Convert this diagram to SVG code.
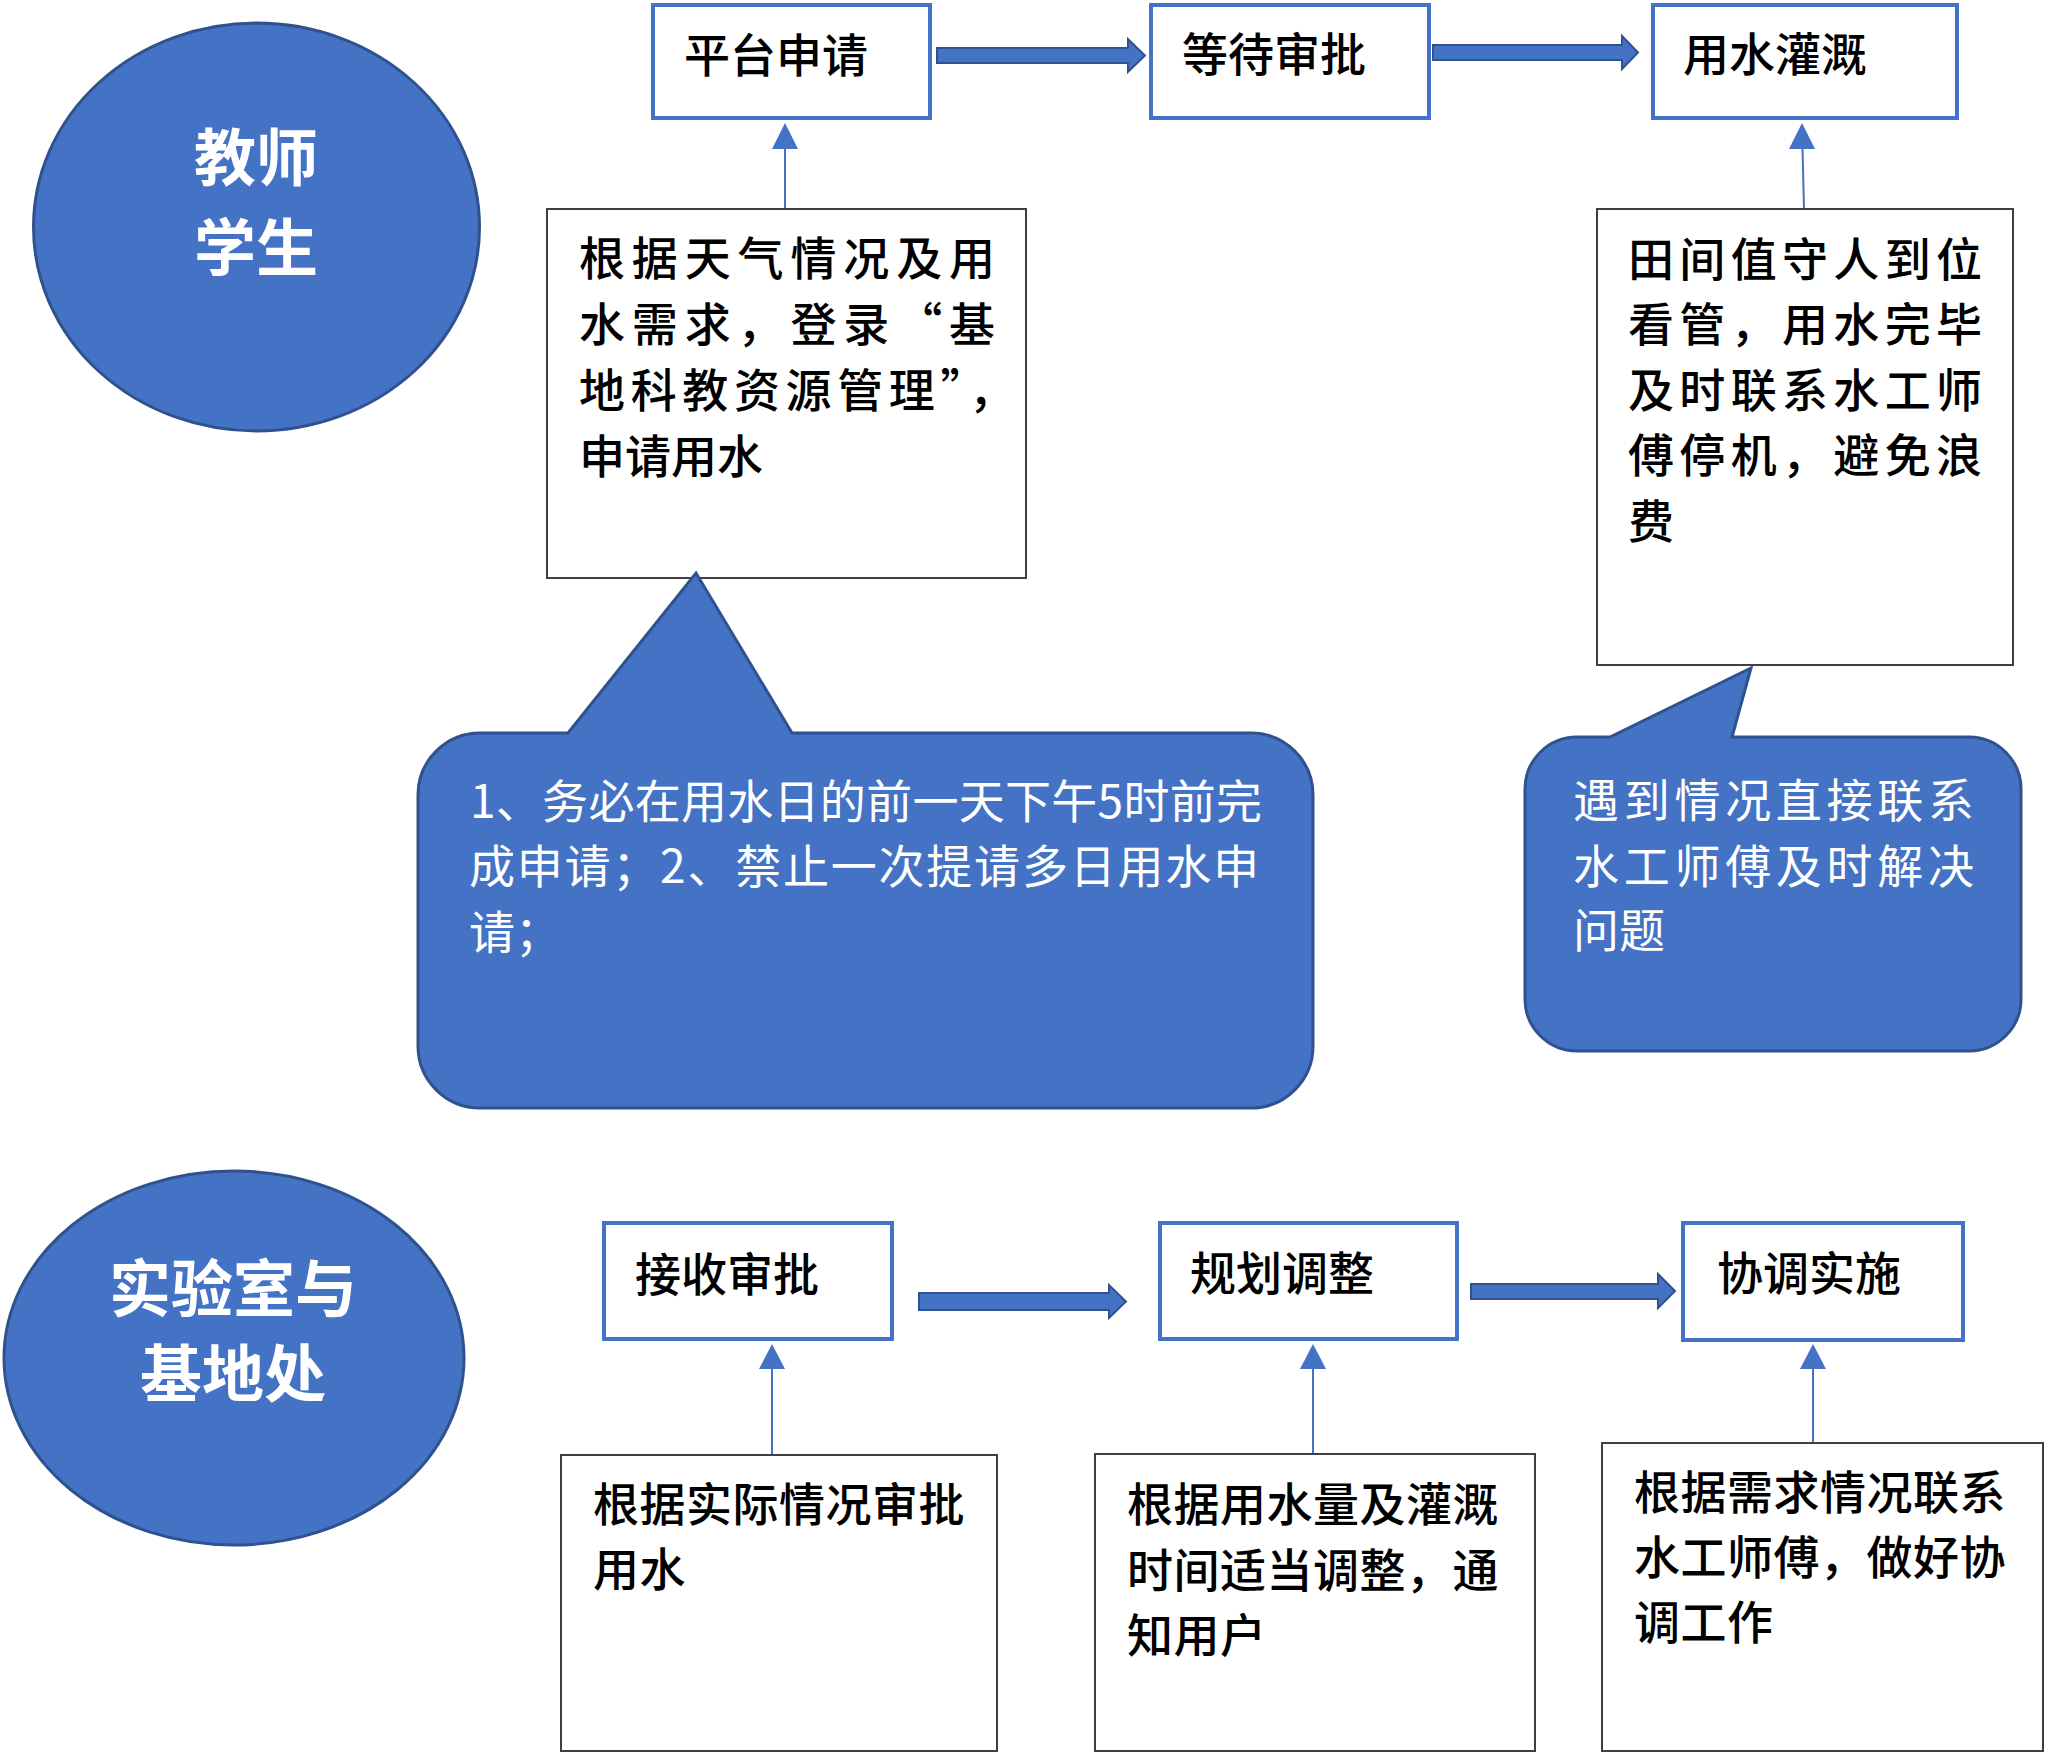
<svg xmlns="http://www.w3.org/2000/svg" width="2048" height="1758" viewBox="0 0 2048 1758">
<style>
.bg{fill:#ffffff}
.ell{fill:#4472C4;stroke:#2F528F;stroke-width:3}
.step{fill:#ffffff;stroke:#4472C4;stroke-width:4}
.note{fill:#ffffff;stroke:#404040;stroke-width:2}
.bubble{fill:#4472C4;stroke:#2F528F;stroke-width:3;stroke-linejoin:miter}
.big{fill:#4472C4;stroke:#2F528F;stroke-width:2}
.thin{stroke:#4472C4;stroke-width:2;fill:none}
.head{fill:#4472C4}
text{font-family:"Noto Sans CJK SC","Noto Sans",sans-serif}
.title{font-size:62px;font-weight:700;fill:#ffffff;text-anchor:middle}
.lbl{font-size:46px;font-weight:500;fill:#000000}
.tA{font-size:46px;font-weight:500;fill:#000000}
.tC{font-size:46px;font-weight:500;fill:#000000;letter-spacing:0.5px}
.tW{font-size:46px;font-weight:400;fill:#ffffff}
</style>
<rect class="bg" x="0" y="0" width="2048" height="1758"/>

<g id="connectors">
  <polygon class="big" points="937,48 1128,48 1128,39 1145,55.5 1128,72 1128,63 937,63"/>
  <polygon class="big" points="1433,45 1622,45 1622,36 1638,52.5 1622,69 1622,60 1433,60"/>
  <polygon class="big" points="919,1293 1109,1293 1109,1285 1126,1301.5 1109,1318 1109,1310 919,1310"/>
  <polygon class="big" points="1471,1284 1658,1284 1658,1274 1675,1291 1658,1308 1658,1299 1471,1299"/>
  <line class="thin" x1="785" y1="209" x2="785" y2="148"/>
  <polygon class="head" points="785,123 798,149 772,149"/>
  <line class="thin" x1="1804" y1="209" x2="1802.5" y2="148"/>
  <polygon class="head" points="1802,123 1815,149 1789,149"/>
  <line class="thin" x1="772" y1="1454" x2="772" y2="1368"/>
  <polygon class="head" points="772,1344 785,1369 759,1369"/>
  <line class="thin" x1="1313" y1="1454" x2="1313" y2="1368"/>
  <polygon class="head" points="1313,1344 1326,1369 1300,1369"/>
  <line class="thin" x1="1813" y1="1442" x2="1813" y2="1368"/>
  <polygon class="head" points="1813,1344 1826,1369 1800,1369"/>
</g>

<g id="role-teacher">
  <ellipse class="ell" cx="256.5" cy="227" rx="223" ry="204"/>
  <text class="title" x="256" y="181">教师</text>
  <text class="title" x="256" y="271">学生</text>
</g>

<g id="step-apply">
  <rect class="step" x="653" y="5" width="277" height="113"/>
  <text class="lbl" x="684" y="72">平台申请</text>
</g>
<g id="step-wait">
  <rect class="step" x="1151" y="5" width="278" height="113"/>
  <text class="lbl" x="1182" y="71">等待审批</text>
</g>
<g id="step-irrigate">
  <rect class="step" x="1653" y="5" width="304" height="113"/>
  <text class="lbl" x="1683" y="71">用水灌溉</text>
</g>

<g id="note-apply">
  <rect class="note" x="547" y="209" width="479" height="369"/>
  <text class="tA" x="579" y="275" textLength="416" lengthAdjust="spacing">根据天气情况及用</text>
  <text class="tA" x="579" y="341" textLength="416" lengthAdjust="spacing">水需求，登录“基</text>
  <text class="tA" x="579" y="407" textLength="436" lengthAdjust="spacing">地科教资源管理”，</text>
  <text class="tA" x="579" y="473">申请用水</text>
</g>

<g id="note-watch">
  <rect class="note" x="1597" y="209" width="416" height="456"/>
  <text class="tA" x="1628" y="276" textLength="354" lengthAdjust="spacing">田间值守人到位</text>
  <text class="tA" x="1628" y="341" textLength="354" lengthAdjust="spacing">看管，用水完毕</text>
  <text class="tA" x="1628" y="407" textLength="354" lengthAdjust="spacing">及时联系水工师</text>
  <text class="tA" x="1628" y="472" textLength="354" lengthAdjust="spacing">傅停机，避免浪</text>
  <text class="tA" x="1628" y="538">费</text>
</g>

<g id="callout-deadline">
  <path class="bubble" d="M480,733 L568,733 L696,573 L792,733 L1251,733 A62,62 0 0 1 1313,795 L1313,1046 A62,62 0 0 1 1251,1108 L480,1108 A62,62 0 0 1 418,1046 L418,795 A62,62 0 0 1 480,733 Z"/>
  <text class="tW" x="470" y="818" textLength="792" lengthAdjust="spacing">1、务必在用水日的前一天下午5时前完</text>
  <text class="tW" x="469" y="883" textLength="790" lengthAdjust="spacing">成申请；2、禁止一次提请多日用水申</text>
  <text class="tW" x="469" y="949">请；</text>
</g>

<g id="callout-contact">
  <path class="bubble" d="M1577,737 L1610,737 L1751,668 L1732,737 L1969,737 A52,52 0 0 1 2021,789 L2021,999 A52,52 0 0 1 1969,1051 L1577,1051 A52,52 0 0 1 1525,999 L1525,789 A52,52 0 0 1 1577,737 Z"/>
  <text class="tW" x="1573" y="817" textLength="401" lengthAdjust="spacing">遇到情况直接联系</text>
  <text class="tW" x="1573" y="883" textLength="401" lengthAdjust="spacing">水工师傅及时解决</text>
  <text class="tW" x="1573" y="947">问题</text>
</g>

<g id="role-lab">
  <ellipse class="ell" cx="234" cy="1358" rx="230" ry="187"/>
  <text class="title" x="233" y="1312">实验室与</text>
  <text class="title" x="233" y="1397">基地处</text>
</g>

<g id="step-receive">
  <rect class="step" x="604" y="1223" width="288" height="116"/>
  <text class="lbl" x="635" y="1291">接收审批</text>
</g>
<g id="step-plan">
  <rect class="step" x="1160" y="1223" width="297" height="116"/>
  <text class="lbl" x="1190" y="1290">规划调整</text>
</g>
<g id="step-coordinate">
  <rect class="step" x="1683" y="1223" width="280" height="117"/>
  <text class="lbl" x="1717" y="1290">协调实施</text>
</g>

<g id="note-receive">
  <rect class="note" x="561" y="1455" width="436" height="296"/>
  <text class="tC" x="593" y="1521">根据实际情况审批</text>
  <text class="tC" x="593" y="1586">用水</text>
</g>
<g id="note-plan">
  <rect class="note" x="1095" y="1454" width="440" height="297"/>
  <text class="tC" x="1127" y="1521">根据用水量及灌溉</text>
  <text class="tC" x="1127" y="1587">时间适当调整，通</text>
  <text class="tC" x="1127" y="1652">知用户</text>
</g>
<g id="note-coordinate">
  <rect class="note" x="1602" y="1443" width="441" height="308"/>
  <text class="tC" x="1634" y="1509">根据需求情况联系</text>
  <text class="tC" x="1634" y="1574">水工师傅，做好协</text>
  <text class="tC" x="1634" y="1639">调工作</text>
</g>
</svg>
